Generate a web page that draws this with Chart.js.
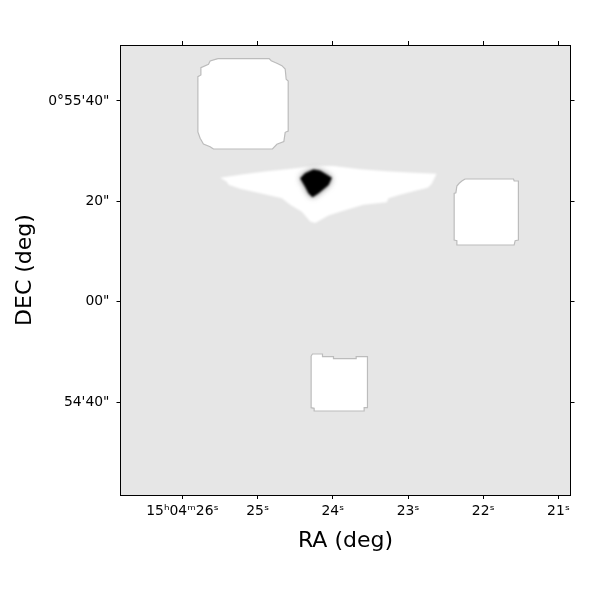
<!DOCTYPE html>
<html>
<head>
<meta charset="utf-8">
<style>
html, body { margin: 0; padding: 0; background: #fff; }
#wrap { width: 600px; height: 600px; }
</style>
<script src="https://cdn.jsdelivr.net/npm/chart.js@4/dist/chart.umd.js"></script>
</head>
<body>
<div id="wrap"><canvas id="skyChart" width="600" height="600"></canvas></div>
<script>
// RA is seconds past 15h04m, DEC is arcsec past 0d54m
const raRange = [20.84, 26.824];
const decRange = [21.47, 111.16];

const raTicks = [26, 25, 24, 23, 22, 21];
const raLabels = ["15ʰ04ᵐ26ˢ", "25ˢ", "24ˢ", "23ˢ", "22ˢ", "21ˢ"];
const decTicks = [100, 80, 60, 40];
const decLabels = ["0°55'40\"", "20\"", "00\"", "54'40\""];

const topBoxRa = [25.529, 24.847, 24.82, 24.745, 24.678, 24.634, 24.621, 24.594, 24.594, 24.634, 24.652, 24.745, 24.803, 25.588, 25.632, 25.721, 25.765, 25.795, 25.795, 25.755, 25.755, 25.654, 25.632];
const topBoxDec = [108.43, 108.43, 108.03, 107.51, 107.04, 106.38, 104.33, 103.99, 94.02, 93.76, 91.89, 91.37, 90.43, 90.43, 90.89, 91.43, 92.57, 93.82, 104.84, 105.18, 106.64, 107.31, 107.97];

const rightBoxRa = [22.241, 21.598, 21.589, 21.533, 21.533, 21.576, 21.589, 22.351, 22.351, 22.387, 22.387, 22.364, 22.351, 22.32, 22.285];
const rightBoxDec = [84.45, 84.45, 84.05, 84.05, 72.3, 72.15, 71.3, 71.3, 72.15, 72.3, 81.6, 81.72, 83.06, 83.6, 84.05];

const lowBoxRa = [24.289, 24.271, 24.138, 24.138, 23.992, 23.992, 23.69, 23.69, 23.54, 23.54, 23.584, 23.584, 24.249, 24.249, 24.289];
const lowBoxDec = [49.17, 49.57, 49.57, 49.03, 49.03, 48.64, 48.64, 49.03, 49.03, 38.87, 38.87, 38.21, 38.21, 38.75, 38.87];

const haloRa = [25.5, 25.189, 24.878, 24.612, 24.435, 24.262, 23.992, 23.637, 23.282, 22.928, 22.62, 22.69, 22.74, 22.928, 23.105, 23.261, 23.282, 23.593, 23.903, 24.058, 24.235, 24.302, 24.412, 24.568, 24.678, 24.967, 25.233, 25.388, 25.41];
const haloDec = [84.7, 85.4, 86.0, 86.4, 86.7, 87.1, 87.05, 86.4, 86.0, 85.7, 85.5, 83.4, 82.7, 82.0, 81.3, 80.6, 79.8, 79.3, 77.9, 77.2, 75.7, 76.0, 77.9, 79.3, 80.6, 81.6, 82.5, 83.3, 83.9];

const coreRa = [24.258, 24.169, 24.013, 24.058, 24.191, 24.271, 24.324, 24.368, 24.435, 24.368];
const coreDec = [86.35, 86.11, 84.71, 83.26, 81.6, 80.81, 81.6, 82.92, 84.59, 85.59];

function outline(ras, decs) {
    const pts = ras.map((ra, i) => ({ x: ra, y: decs[i] }));
    pts.push(pts[0]);
    return pts;
}

function patch(ras, decs, fillColor, lineColor, lineWidth, blur, order) {
    return {
        data: outline(ras, decs),
        showLine: true,
        fill: "shape",
        backgroundColor: fillColor,
        borderColor: lineColor,
        borderWidth: lineWidth,
        pointRadius: 0,
        tension: 0,
        blur: blur,
        order: order,
    };
}

// grey sky behind the patches
const skyPlugin = {
    id: "sky",
    beforeDraw(chart) {
        const a = chart.chartArea;
        chart.ctx.fillStyle = "#e6e6e6";
        chart.ctx.fillRect(a.left, a.top, a.width, a.height);
    },
};

const blurPlugin = {
    id: "blurPatch",
    beforeDatasetDraw(chart, args) {
        const b = chart.data.datasets[args.index].blur;
        if (b) chart.ctx.filter = "blur(" + b + "px)";
    },
    afterDatasetDraw(chart) {
        chart.ctx.filter = "none";
    },
};

// filler has to run after blurPatch or the fill is not blurred
const filler = Chart.registry.getPlugin("filler");
Chart.unregister(filler);
Chart.register(skyPlugin, blurPlugin, filler);

const tickFont = { family: "DejaVu Sans", size: 13.9 };
const titleFont = { family: "DejaVu Sans", size: 22 };

function raAxis(position, size, extra) {
    return Object.assign({
        type: "linear",
        axis: "x",
        position: position,
        reverse: true,
        min: raRange[0],
        max: raRange[1],
        afterBuildTicks: (scale) => { scale.ticks = raTicks.map((v) => ({ value: v })); },
        afterFit: (scale) => { scale.height = size; },
        grid: { drawOnChartArea: false, color: "#000", tickLength: 4, tickWidth: 1 },
        border: { color: "#000", width: 1 },
    }, extra);
}

function decAxis(position, size, extra) {
    return Object.assign({
        type: "linear",
        axis: "y",
        position: position,
        min: decRange[0],
        max: decRange[1],
        afterBuildTicks: (scale) => { scale.ticks = decTicks.map((v) => ({ value: v })); },
        afterFit: (scale) => { scale.width = size; },
        grid: { drawOnChartArea: false, color: "#000", tickLength: 4, tickWidth: 1 },
        border: { color: "#000", width: 1 },
    }, extra);
}

new Chart("skyChart", {
    type: "scatter",
    data: {
        datasets: [
            patch(topBoxRa, topBoxDec, "#ffffff", "#bcbcbc", 1.2, 0, 5),
            patch(rightBoxRa, rightBoxDec, "#ffffff", "#bcbcbc", 1.2, 0, 5),
            patch(lowBoxRa, lowBoxDec, "#ffffff", "#bcbcbc", 1.2, 0, 5),
            patch(haloRa, haloDec, "#ffffff", "#ffffff", 0, 1, 4),
            patch(coreRa, coreDec, "rgba(70,70,70,0.8)", "rgba(70,70,70,0.8)", 0, 3, 3),
            patch(coreRa, coreDec, "#000000", "#000000", 0, 1.2, 2),
        ],
    },
    options: {
        responsive: false,
        animation: false,
        events: [],
        layout: { padding: 0 },
        plugins: {
            legend: { display: false },
            tooltip: { enabled: false },
        },
        scales: {
            x: raAxis("bottom", 105, {
                ticks: {
                    color: "#000",
                    font: tickFont,
                    padding: 4,
                    autoSkip: false,
                    maxRotation: 0,
                    callback: (value) => raLabels[raTicks.indexOf(value)],
                },
                title: {
                    display: true,
                    text: "RA (deg)",
                    color: "#000",
                    font: titleFont,
                    padding: { top: 0, bottom: 46 },
                },
            }),
            xTop: raAxis("top", 45, { ticks: { display: false } }),
            y: decAxis("left", 120.5, {
                ticks: {
                    color: "#000",
                    font: tickFont,
                    padding: 7,
                    autoSkip: false,
                    callback: (value) => decLabels[decTicks.indexOf(value)],
                },
                title: {
                    display: true,
                    text: "DEC (deg)",
                    color: "#000",
                    font: titleFont,
                    padding: { top: 12, bottom: 0 },
                },
            }),
            yRight: decAxis("right", 29.5, { ticks: { display: false } }),
        },
    },
});
</script>
</body>
</html>
